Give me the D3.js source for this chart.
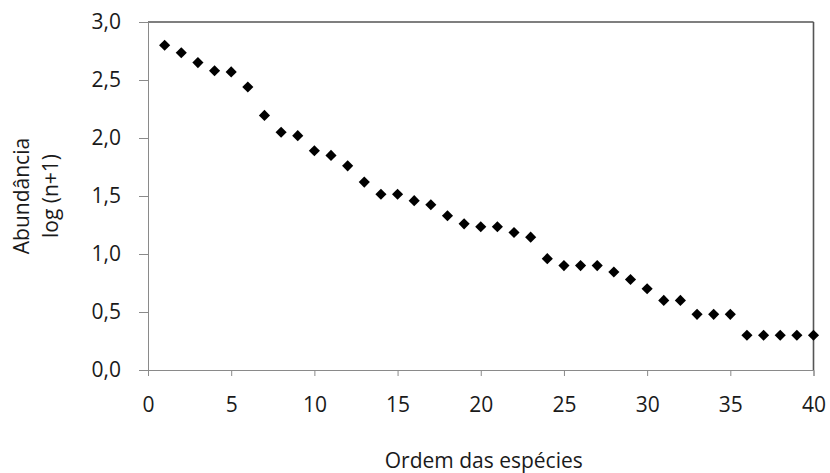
<!DOCTYPE html>
<html>
<head>
<meta charset="utf-8">
<script src="https://cdn.jsdelivr.net/npm/d3@7"></script>
<style>
  html, body { margin: 0; padding: 0; background: #fff; }
  svg { display: block; }
  text { font-family: "Open Sans", sans-serif; fill: #1a1a1a; }
</style>
</head>
<body>
<svg id="chart" width="830" height="473"></svg>
<script>
// Species rank order (x) and abundance log(n+1) (y)
const ranks = d3.range(1, 41);
const abundance = [
  2.80, 2.735, 2.65, 2.58, 2.57, 2.44, 2.195, 2.05, 2.02, 1.89,
  1.85, 1.76, 1.62, 1.515, 1.515, 1.46, 1.425, 1.33, 1.26, 1.235,
  1.235, 1.185, 1.145, 0.96, 0.90, 0.90, 0.90, 0.845, 0.78, 0.70,
  0.60, 0.60, 0.48, 0.48, 0.48, 0.30, 0.30, 0.30, 0.30, 0.30
];
const xTicks = [0, 5, 10, 15, 20, 25, 30, 35, 40];
const yTicks = [0, 0.5, 1.0, 1.5, 2.0, 2.5, 3.0];
const xTitle = "Ordem das espécies";
const yTitleLines = ["Abundância", "log (n+1)"];

const svg = d3.select("#chart");
const margin = { left: 148, right: 830 - 813.5, top: 22, bottom: 473 - 370 };
const W = 830, H = 473;
const FS = "21px";

const x = d3.scaleLinear().domain([0, 40]).range([margin.left, W - margin.right]);
const y = d3.scaleLinear().domain([0, 3]).range([H - margin.bottom, margin.top]);

const fmt = d => d3.format(".1f")(d).replace(".", ",");

// plot area border (top/right darker)
svg.append("line")
  .attr("x1", x(0)).attr("x2", x(40)).attr("y1", y(3)).attr("y2", y(3))
  .attr("stroke", "#555").attr("stroke-width", 1.6);
svg.append("line")
  .attr("x1", x(40)).attr("x2", x(40)).attr("y1", y(3)).attr("y2", y(0))
  .attr("stroke", "#555").attr("stroke-width", 1.6);

// Y axis
const yAxis = svg.append("g")
  .attr("transform", `translate(${x(0)},0)`)
  .call(d3.axisLeft(y).tickValues(yTicks).tickFormat(fmt).tickSize(9).tickPadding(18));
yAxis.select(".domain").attr("stroke", "#8a8a8a");
yAxis.selectAll(".tick line").attr("stroke", "#8a8a8a");
yAxis.selectAll(".tick text").style("font-size", FS).attr("fill", "#1a1a1a");

// X axis
const xAxis = svg.append("g")
  .attr("transform", `translate(0,${y(0)})`)
  .call(d3.axisBottom(x).tickValues(xTicks).tickFormat(d3.format("d")).tickSize(6).tickPadding(21));
xAxis.select(".domain").attr("stroke", "#8a8a8a");
xAxis.selectAll(".tick line").attr("stroke", "#8a8a8a");
xAxis.selectAll(".tick text").style("font-size", FS).attr("fill", "#1a1a1a");

// Points (diamonds)
svg.append("g").selectAll("path")
  .data(ranks.map((r, i) => ({ r, v: abundance[i] })))
  .join("path")
  .attr("d", d3.symbol(d3.symbolSquare, 62))
  .attr("transform", d => `translate(${x(d.r)},${y(d.v)}) rotate(45)`)
  .attr("fill", "#000");

// Axis titles
svg.append("text")
  .attr("x", (x(0) + x(40)) / 2 + 3)
  .attr("y", 468)
  .attr("text-anchor", "middle")
  .style("font-size", FS)
  .text(xTitle);

const yt = svg.append("text")
  .attr("transform", `translate(0,196) rotate(-90)`)
  .attr("text-anchor", "middle")
  .style("font-size", FS);
yt.selectAll("tspan").data(yTitleLines).join("tspan")
  .attr("x", 0)
  .attr("y", (d, i) => 29 + i * 29)
  .text(d => d);
</script>
</body>
</html>
